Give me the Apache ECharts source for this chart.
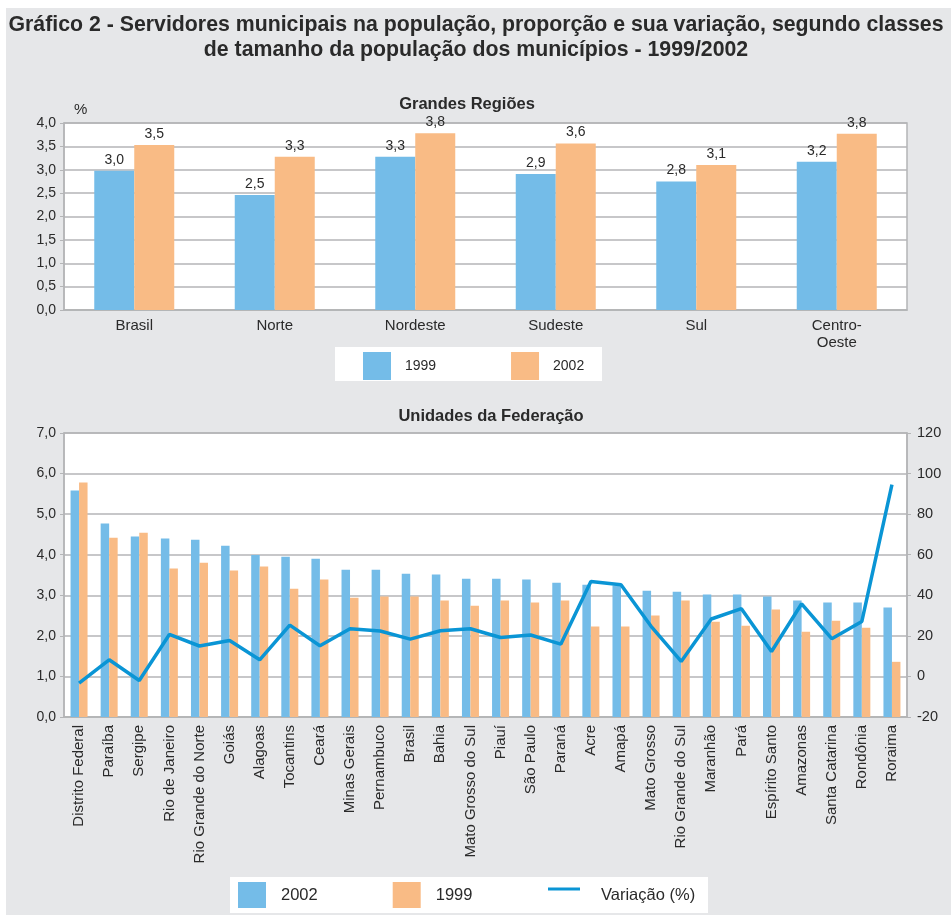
<!DOCTYPE html>
<html>
<head>
<meta charset="utf-8">
<script src="https://cdn.jsdelivr.net/npm/echarts@6/dist/echarts.min.js"></script>
<style>
html,body{margin:0;padding:0;background:#fff;}
#c{width:951px;height:915px;}
</style>
</head>
<body>
<div id="c"></div>
<script>
// ---- Data: Grandes Regiões ----
const regions = ['Brasil', 'Norte', 'Nordeste', 'Sudeste', 'Sul', 'Centro-\nOeste'];
const reg1999 = [2.98, 2.46, 3.28, 2.91, 2.75, 3.17];
const reg2002 = [3.53, 3.28, 3.78, 3.56, 3.10, 3.77];

// ---- Data: Unidades da Federação ----
const ufs = ['Distrito Federal', 'Paraíba', 'Sergipe', 'Rio de Janeiro', 'Rio Grande do Norte', 'Goiás',
  'Alagoas', 'Tocantins', 'Ceará', 'Minas Gerais', 'Pernambuco', 'Brasil', 'Bahia', 'Mato Grosso do Sul',
  'Piauí', 'São Paulo', 'Paraná', 'Acre', 'Amapá', 'Mato Grosso', 'Rio Grande do Sul', 'Maranhão', 'Pará',
  'Espírito Santo', 'Amazonas', 'Santa Catarina', 'Rondônia', 'Roraima'];
const uf2002 = [5.58, 4.77, 4.45, 4.40, 4.37, 4.22, 3.99, 3.95, 3.90, 3.63, 3.63, 3.53, 3.51, 3.41,
  3.41, 3.39, 3.31, 3.26, 3.24, 3.11, 3.09, 3.02, 3.02, 2.97, 2.87, 2.82, 2.82, 2.70];
const uf1999 = [5.78, 4.42, 4.54, 3.66, 3.80, 3.61, 3.71, 3.16, 3.39, 2.94, 2.97, 2.97, 2.87, 2.74,
  2.87, 2.82, 2.87, 2.23, 2.23, 2.50, 2.87, 2.35, 2.25, 2.65, 2.10, 2.37, 2.20, 1.36];
const ufVar = [-3.3, 8.2, -2.0, 20.7, 15.0, 17.7, 8.2, 25.3, 15.1, 23.5, 22.4, 18.4, 22.5, 23.5,
  19.2, 20.4, 15.9, 46.8, 45.2, 24.7, 7.4, 28.3, 33.4, 12.3, 35.8, 18.6, 27.1, 94.5];

const titleLines = ['Gráfico 2 - Servidores municipais na população, proporção e sua variação, segundo classes',
  'de tamanho da população dos municípios - 1999/2002'];

const BLUE = '#74bce8', ORANGE = '#f9bb85', LINE = '#0a95d5';
const GRID = '#b4b5b7', TXT = '#2a2a2a';
const FONT = '"Liberation Sans", Arial, sans-serif';
const comma1 = v => v.toFixed(1).replace('.', ',');

const chart = echarts.init(document.getElementById('c'));
chart.setOption({
  animation: false,
  textStyle: { fontFamily: FONT },
  graphic: [
    { type: 'rect', z: -10, silent: true, shape: { x: 6, y: 8, width: 945, height: 907 }, style: { fill: '#e6e7e9' } },
    { type: 'rect', z: -5, silent: true, shape: { x: 335, y: 347, width: 267, height: 34 }, style: { fill: '#ffffff' } },
    { type: 'rect', z: -5, silent: true, shape: { x: 230, y: 877, width: 478, height: 36 }, style: { fill: '#ffffff' } },
    { type: 'text', silent: true, x: 476, y: 25, style: { text: titleLines[0], font: 'bold 21.3px ' + FONT, fill: TXT, align: 'center', verticalAlign: 'middle' } },
    { type: 'text', silent: true, x: 476, y: 50, style: { text: titleLines[1], font: 'bold 21.3px ' + FONT, fill: TXT, align: 'center', verticalAlign: 'middle' } },
    { type: 'text', silent: true, x: 74, y: 110, style: { text: '%', font: '15px ' + FONT, fill: TXT, verticalAlign: 'middle' } },
    { type: 'rect', silent: true, shape: { x: 548, y: 887.5, width: 32, height: 3 }, style: { fill: LINE } },
    { type: 'text', silent: true, x: 601, y: 895, style: { text: 'Variação (%)', font: '16.5px ' + FONT, fill: TXT, verticalAlign: 'middle' } }
  ],
  title: [
    { text: 'Grandes Regiões', left: 462, textAlign: 'center', top: 91,
      textStyle: { fontSize: 16.5, fontWeight: 'bold', color: TXT, fontFamily: FONT } },
    { text: 'Unidades da Federação', left: 486, textAlign: 'center', top: 403,
      textStyle: { fontSize: 16.5, fontWeight: 'bold', color: TXT, fontFamily: FONT } }
  ],
  legend: [
    { data: ['1999 ', '2002 '], left: 363, top: 352, itemWidth: 28, itemHeight: 28, itemGap: 71, icon: 'rect',
      padding: 0, textStyle: { fontSize: 14, color: TXT, padding: [0, 0, 0, 9], fontFamily: FONT } },
    { data: ['2002', '1999'], left: 238, top: 882, itemWidth: 28, itemHeight: 26, itemGap: 75, icon: 'rect',
      padding: 0, textStyle: { fontSize: 16.5, color: TXT, padding: [0, 0, 0, 10], fontFamily: FONT } }
  ],
  grid: [
    { left: 64, right: 44, top: 123, height: 187, show: true, backgroundColor: '#fff', borderColor: GRID, borderWidth: 1.5 },
    { left: 64, right: 44, top: 433, height: 284, show: true, backgroundColor: '#fff', borderColor: GRID, borderWidth: 1.5 }
  ],
  xAxis: [
    { type: 'category', gridIndex: 0, data: regions,
      axisLine: { lineStyle: { color: GRID, width: 1.5 } },
      axisTick: { lineStyle: { color: GRID }, length: 4 },
      axisLabel: { fontSize: 15, color: TXT, margin: 7, lineHeight: 17, fontFamily: FONT } },
    { type: 'category', gridIndex: 1, data: ufs,
      axisLine: { lineStyle: { color: GRID, width: 1.5 } },
      axisTick: { lineStyle: { color: GRID }, length: 4 },
      axisLabel: { fontSize: 15, color: TXT, rotate: 90, margin: 8, interval: 0, fontFamily: FONT } }
  ],
  yAxis: [
    { type: 'value', gridIndex: 0, min: 0, max: 4, interval: 0.5,
      axisLine: { show: true, lineStyle: { color: GRID, width: 1.5 } },
      axisTick: { show: true, length: 4, lineStyle: { color: GRID } },
      splitLine: { lineStyle: { color: GRID, width: 1.5 } },
      axisLabel: { fontSize: 14, color: TXT, margin: 8, formatter: v => comma1(v), fontFamily: FONT } },
    { type: 'value', gridIndex: 1, min: 0, max: 7, interval: 1,
      axisLine: { show: true, lineStyle: { color: GRID, width: 1.5 } },
      axisTick: { show: true, length: 4, lineStyle: { color: GRID } },
      splitLine: { lineStyle: { color: GRID, width: 1.5 } },
      axisLabel: { fontSize: 14, color: TXT, margin: 8, formatter: v => comma1(v), fontFamily: FONT } },
    { type: 'value', gridIndex: 1, position: 'right', min: -20, max: 120, interval: 20,
      axisLine: { show: true, lineStyle: { color: GRID, width: 1.5 } },
      axisTick: { show: true, length: 4, lineStyle: { color: GRID } },
      splitLine: { show: false },
      axisLabel: { fontSize: 14.5, color: TXT, margin: 10, fontFamily: FONT } }
  ],
  series: [
    { name: '1999 ', type: 'bar', xAxisIndex: 0, yAxisIndex: 0, data: reg1999, barWidth: 40, barGap: '0%',
      itemStyle: { color: BLUE },
      label: { show: true, position: 'top', distance: 4, fontSize: 14, color: TXT, formatter: p => comma1(p.value), fontFamily: FONT } },
    { name: '2002 ', type: 'bar', xAxisIndex: 0, yAxisIndex: 0, data: reg2002, barWidth: 40, barGap: '0%',
      itemStyle: { color: ORANGE },
      label: { show: true, position: 'top', distance: 4, fontSize: 14, color: TXT, formatter: p => comma1(p.value), fontFamily: FONT } },
    { name: '2002', type: 'bar', xAxisIndex: 1, yAxisIndex: 1, data: uf2002, barWidth: 8.5, barGap: '0%',
      itemStyle: { color: BLUE } },
    { name: '1999', type: 'bar', xAxisIndex: 1, yAxisIndex: 1, data: uf1999, barWidth: 8.5, barGap: '0%',
      itemStyle: { color: ORANGE } },
    { name: 'Variação (%)', type: 'line', xAxisIndex: 1, yAxisIndex: 2, data: ufVar, symbol: 'none',
      lineStyle: { color: LINE, width: 3.5 }, itemStyle: { color: LINE }, z: 5 }
  ]
});
</script>
</body>
</html>
